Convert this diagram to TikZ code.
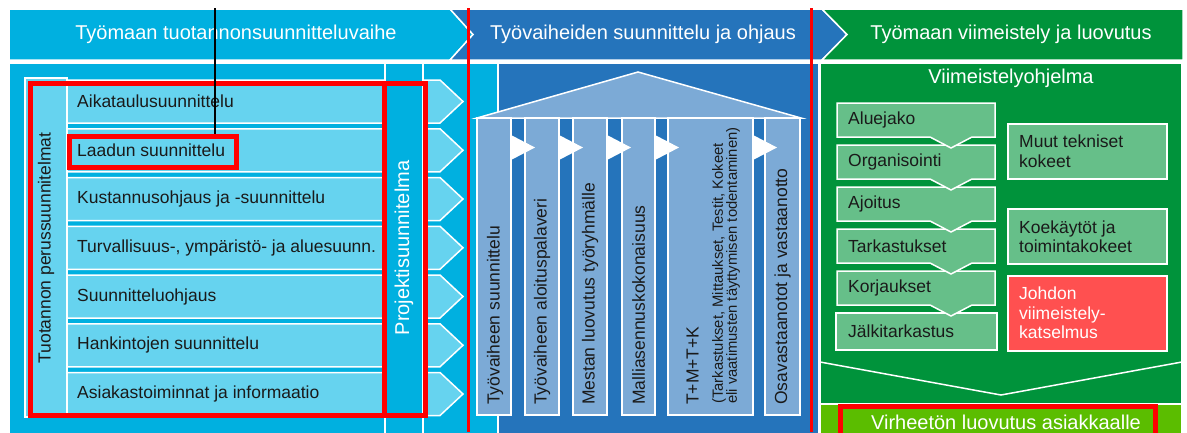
\documentclass[tikz,border=0pt]{standalone}
\usepackage{fontspec}
\setmainfont{Liberation Sans}
\definecolor{cyanD}{HTML}{00B0E0}
\definecolor{cyanL}{HTML}{66D3EF}
\definecolor{blueD}{HTML}{2574BB}
\definecolor{blueL}{HTML}{7CAAD6}
\definecolor{greenD}{HTML}{00933B}
\definecolor{greenL}{HTML}{66BF89}
\definecolor{greenB}{HTML}{5BBD00}
\definecolor{redbox}{HTML}{FF5050}
\definecolor{txt}{HTML}{1A1A1A}
\tikzset{
  wline/.style={draw=white, line width=1.5pt},
  hdrtxt/.style={text=white, inner sep=0pt, font=\fontsize{20}{24}\selectfont},
  bodytxt/.style={text=txt, inner sep=0pt, font=\fontsize{17.5}{20}\selectfont},
  rowtxt/.style={bodytxt, anchor=west},
  coltxt/.style={bodytxt, rotate=90, anchor=west},
  smalltxt/.style={text=txt, inner sep=0pt, rotate=90, anchor=west, align=left, font=\fontsize{14.8}{14}\selectfont},
  boxtxt/.style={text=txt, inner sep=0pt, anchor=west, align=left, font=\fontsize{17.5}{19.5}\selectfont},
  redframe/.style={draw=red, line width=5pt},
  redrule/.style={draw=red, line width=3pt},
  gbox/.style={fill=greenL, draw=white, line width=1.5pt},
}
\begin{document}
\begin{tikzpicture}[x=1pt,y=-1pt]
\useasboundingbox (0,0) rectangle (1187,432);
\clip (0,0) rectangle (1187,432);
% ---------------- header chevrons
\filldraw[fill=cyanD, wline] (9,9) -- (450,9) -- (473,34.5) -- (450,60) -- (9,60) -- cycle;
\filldraw[fill=blueD, wline] (450,9) -- (822,9) -- (847,34.5) -- (822,60) -- (450,60) -- (473,34.5) -- cycle;
\filldraw[fill=greenD, wline] (822,9) -- (1183,9) -- (1183,60) -- (822,60) -- (847,34.5) -- cycle;
\node[hdrtxt] (h1) at (236,34) {Työmaan tuotannonsuunnitteluvaihe};
\node[hdrtxt] (h2) at (643,34) {Työvaiheiden suunnittelu ja ohjaus};
\node[hdrtxt] (h3) at (1011,34) {Työmaan viimeistely ja luovutus};
% ---------------- left panel
\filldraw[fill=cyanD, wline] (9,63) rectangle (498,440);
\filldraw[fill=cyanL, wline] (25,78) rectangle (67,417);
\foreach \i in {0,...,6}{
  \pgfmathsetmacro\yt{80+48.75*\i}
  \pgfmathsetmacro\yb{\yt+43}
  \pgfmathsetmacro\ym{\yt+21.5}
  \filldraw[fill=cyanL, wline] (67,\yt) -- (440,\yt) -- (463,\ym) -- (440,\yb) -- (67,\yb) -- cycle;
}
\filldraw[fill=cyanD, wline] (385,63) rectangle (423,440);
\foreach \i/\lbl in {0/Aikataulusuunnittelu,1/Laadun suunnittelu,2/Kustannusohjaus ja -suunnittelu,3/{Turvallisuus-, ympäristö- ja aluesuunn.},4/Suunnitteluohjaus,5/Hankintojen suunnittelu,6/Asiakastoiminnat ja informaatio}{
  \node[rowtxt] (row\i) at (77,{101.5+48.75*\i}) {\lbl};
}
\node[bodytxt, rotate=90] (tuot) at (46,248) {Tuotannon perussuunnitelmat};
\node[hdrtxt, rotate=90] (proj) at (404,248) {Projektisuunnitelma};
% ---------------- middle panel
\filldraw[fill=blueD, wline] (498,63) rectangle (819,440);
\filldraw[fill=blueL, wline] (477,118) -- (638,72) -- (801,118) -- cycle;
\foreach \a/\b in {477/511,525/559,573/607,622/655,668/753,765/800}{
  \filldraw[fill=blueL, wline] (\a,118) rectangle (\b,415);
}
\foreach \a in {511,559,607,655,753}{
  \fill[white] (\a,135) -- ({\a+24},147.5) -- (\a,160) -- cycle;
}
\node[coltxt] (c1) at (495,405) {Työvaiheen suunnittelu};
\node[coltxt] (c2) at (542,405) {Työvaiheen aloituspalaveri};
\node[coltxt] (c3) at (590,405) {Mestan luovutus työryhmälle};
\node[coltxt] (c4) at (638.5,405) {Malliasennuskokonaisuus};
\node[coltxt] (c5) at (692.5,405) {T+M+T+K};
\node[smalltxt] (c5b) at (726,404) {(Tarkastukset, Mittaukset, Testit, Kokeet\\eli vaatimusten täyttymisen todentaminen)};
\node[coltxt] (c6) at (782.5,405) {Osavastaanotot ja vastaanotto};
% ---------------- right panel
\filldraw[fill=greenD, wline] (820,63) rectangle (1182,404);
\draw[wline] (820,362) -- (1001,395) -- (1182,362);
\node[hdrtxt] (viim) at (1011,78) {Viimeistelyohjelma};
\filldraw[gbox] (836,313) rectangle (997,350);
\node[rowtxt] (g5) at (848,331.5) {Jälkitarkastus};
\foreach \i/\lbl in {4/Korjaukset,3/Tarkastukset,2/Ajoitus,1/Organisointi,0/Aluejako}{
  \pgfmathsetmacro\yt{103+42*\i}
  \pgfmathsetmacro\yb{137+42*\i}
  \pgfmathsetmacro\ytip{148+42*\i}
  \filldraw[gbox] (837,\yt) -- (995,\yt) -- (995,\yb) -- (972,\yb) -- (951,\ytip) -- (930,\yb) -- (837,\yb) -- cycle;
  \node[rowtxt] (g\i) at (848,{120+42*\i}) {\lbl};
}
\filldraw[gbox] (1008,124) rectangle (1167,179);
\node[boxtxt] (m1) at (1019,151) {Muut tekniset\\kokeet};
\filldraw[gbox] (1008,209) rectangle (1167,264);
\node[boxtxt] (m2) at (1019,236.5) {Koekäytöt ja\\toimintakokeet};
\filldraw[fill=redbox, wline] (1008,276) rectangle (1167,351);
\node[boxtxt, text=white] (m3) at (1019,313) {Johdon\\viimeistely-\\katselmus};
\filldraw[fill=greenB, wline] (820,404) rectangle (1182,440);
\node[hdrtxt] (virh) at (1006,422) {Virheetön luovutus asiakkaalle};
% ---------------- red marks and black line
\draw[redframe] (30,83) rectangle (425,415);
\draw[redframe] (384,83) rectangle (425,415);
\node[redframe, minimum width=166.5pt, minimum height=31pt, inner sep=0pt] (laadunbox) at (152.75,151.5) {};
\draw[redframe] (840,406.5) rectangle (1155.5,445);
\coordinate (r1t) at (468,8);
\coordinate (r1b) at (468,432);
\coordinate (r2t) at (811.5,8);
\coordinate (r2b) at (811.5,432);
\draw[redrule] (r1t) -- (r1b);
\draw[redrule] (r2t) -- (r2b);
\coordinate (btop) at (215,8);
\draw[line width=2.5pt] (btop) -- (btop |- laadunbox.north);
\end{tikzpicture}
\end{document}
